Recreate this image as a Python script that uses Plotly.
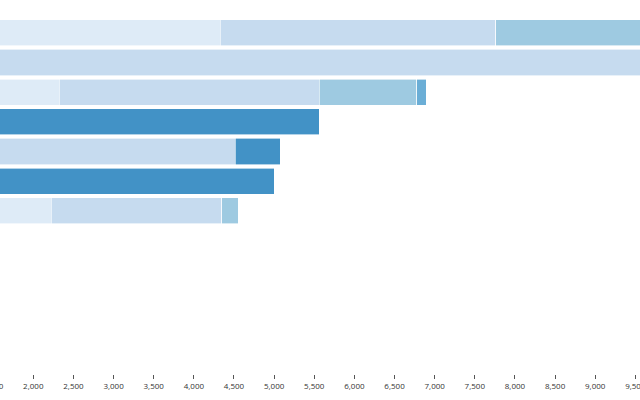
import plotly.graph_objects as go

rows = [0, 1, 2, 3, 4, 5, 6]
seg1 = [4326, 0, 2320, 0, 0, 0, 2221]
seg2 = [3434, 10200, 3243, 0, 4513, 0, 2126]
seg3 = [2600, 0, 1213, 0, 0, 0, 212]
seg4 = [0, 0, 116, 0, 0, 0, 0]
seg5 = [0, 0, 0, 5559, 564, 4999, 0]
series = [("Segment 1", seg1, "#deebf7"), ("Segment 2", seg2, "#c6dbef"),
          ("Segment 3", seg3, "#9ecae1"), ("Segment 4", seg4, "#6baed6"),
          ("Segment 5", seg5, "#4292c6")]
tick_vals = list(range(1500, 10000, 500))
tick_text = [f"{v:,}" for v in tick_vals]
x_range = [1585, 9558]

fig = go.Figure()
for name, vals, col in series:
    fig.add_trace(go.Bar(y=rows, x=vals, name=name, orientation="h",
                         marker=dict(color=col, line=dict(color="white", width=0.6))))

fig.update_layout(
    barmode="stack", bargap=0.115, showlegend=False,
    width=640, height=400, margin=dict(l=0, r=0, t=18, b=26),
    paper_bgcolor="white", plot_bgcolor="white",
    font=dict(family="Open Sans", size=8, color="#333"),
    xaxis=dict(range=x_range, tickvals=tick_vals, ticktext=tick_text,
               showgrid=False, zeroline=False, showline=False,
               ticks="outside", ticklen=4, tickwidth=1, tickcolor="#555",
               ticklabeloverflow="allow", automargin=False),
    yaxis=dict(range=[11.5, -0.5], visible=False, automargin=False),
)
# partially visible first tick label at the left edge
fig.add_annotation(x=(tick_vals[0] - x_range[0]) / (x_range[1] - x_range[0]), xref="paper",
                   xanchor="center", y=0, yref="paper", yanchor="top", yshift=-4,
                   showarrow=False, text=tick_text[0],
                   font=dict(family="Open Sans", size=8, color="#333"))
fig.write_html("out.html", config={"displayModeBar": False},
               post_script="document.body.style.margin='0';document.body.style.overflow='hidden';")
